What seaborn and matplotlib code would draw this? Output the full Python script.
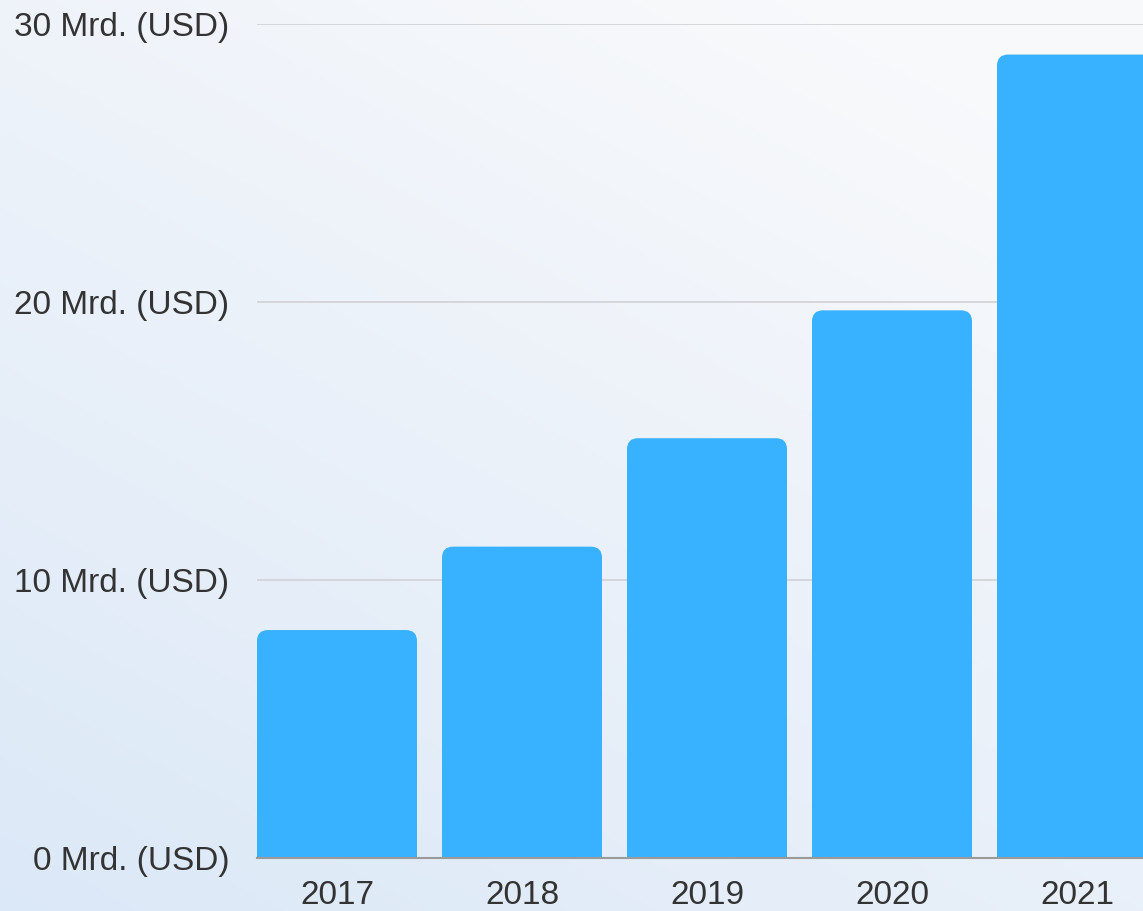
import numpy as np
import pandas as pd
import matplotlib
matplotlib.use("Agg")
import matplotlib.pyplot as plt
from matplotlib.patches import FancyBboxPatch
import seaborn as sns

# Revenue per year, billions of USD
years = ["2017", "2018", "2019", "2020", "2021"]
revenue = [8.2, 11.2, 15.1, 19.7, 28.9]
y_ticks = [0, 10, 20, 30]
y_tick_labels = ["0 Mrd. (USD)", "10 Mrd. (USD)", "20 Mrd. (USD)", "30 Mrd. (USD)"]

df = pd.DataFrame({"year": years, "revenue": revenue})

sns.set_theme(style="white")
plt.rcParams["font.family"] = ["Liberation Sans", "DejaVu Sans"]

W, H, DPI = 1143, 911, 100
fig = plt.figure(figsize=(W / DPI, H / DPI), dpi=DPI)

# soft diagonal background: pale blue lower-left fading to near white upper-right
bg = fig.add_axes([0, 0, 1, 1], zorder=-10)
gx, gy = np.meshgrid(np.linspace(0, 1, 300), np.linspace(0, 1, 300))
t = np.clip(0.55 * (1 - gx) + 0.8 * (1 - gy) - 0.15, 0, 1.2) / 1.2
c_light = np.array([0.975, 0.978, 0.985])
c_blue = np.array([0.86, 0.91, 0.97])
img = c_light[None, None, :] * (1 - t[..., None]) + c_blue[None, None, :] * t[..., None]
bg.imshow(img, aspect="auto", extent=[0, 1, 0, 1], origin="lower")
bg.axis("off")

ax = fig.add_axes([257 / W, 1 - 858 / H, 1 - 257 / W, (858 - 24) / H])
ax.patch.set_alpha(0)

bar_color = "#38b2ff"
width = 160 / 185
sns.barplot(data=df, x="year", y="revenue", color=bar_color, width=width,
            saturation=1, ax=ax, zorder=3)

ax.set_xlim(-80 / 185, (1143 - 337) / 185)
ax.set_ylim(0, 30)

# replace the plain rectangles with top-rounded bars
y_per_px = 30 / (858 - 24)
x_per_px = 1 / 185
aspect = y_per_px / x_per_px
r = 11 * x_per_px
for p in list(ax.patches):
    x0, w, h = p.get_x(), p.get_width(), p.get_height()
    p.set_visible(False)
    ext = 1.0
    fb = FancyBboxPatch((x0, -ext), w, h + ext,
                        boxstyle=f"round,pad=0,rounding_size={r}",
                        mutation_aspect=aspect,
                        facecolor=bar_color, edgecolor="none", zorder=3)
    ax.add_patch(fb)

ax.set_yticks(y_ticks)
ax.set_yticklabels(y_tick_labels)
ax.yaxis.grid(True, color="#d2d4d8", linewidth=1.3, zorder=0)
ax.xaxis.grid(False)
for s in ["top", "right", "left"]:
    ax.spines[s].set_visible(False)
ax.spines["bottom"].set_color("#9a9a9a")
ax.spines["bottom"].set_linewidth(1.5)
ax.spines["bottom"].set_zorder(4)

ax.tick_params(axis="y", length=0, pad=20, labelsize=24, labelcolor="#333333")
ax.tick_params(axis="x", length=0, pad=16, labelsize=24, labelcolor="#333333")
ax.set_xlabel("")
ax.set_ylabel("")

fig.savefig("out.png", dpi=DPI)
